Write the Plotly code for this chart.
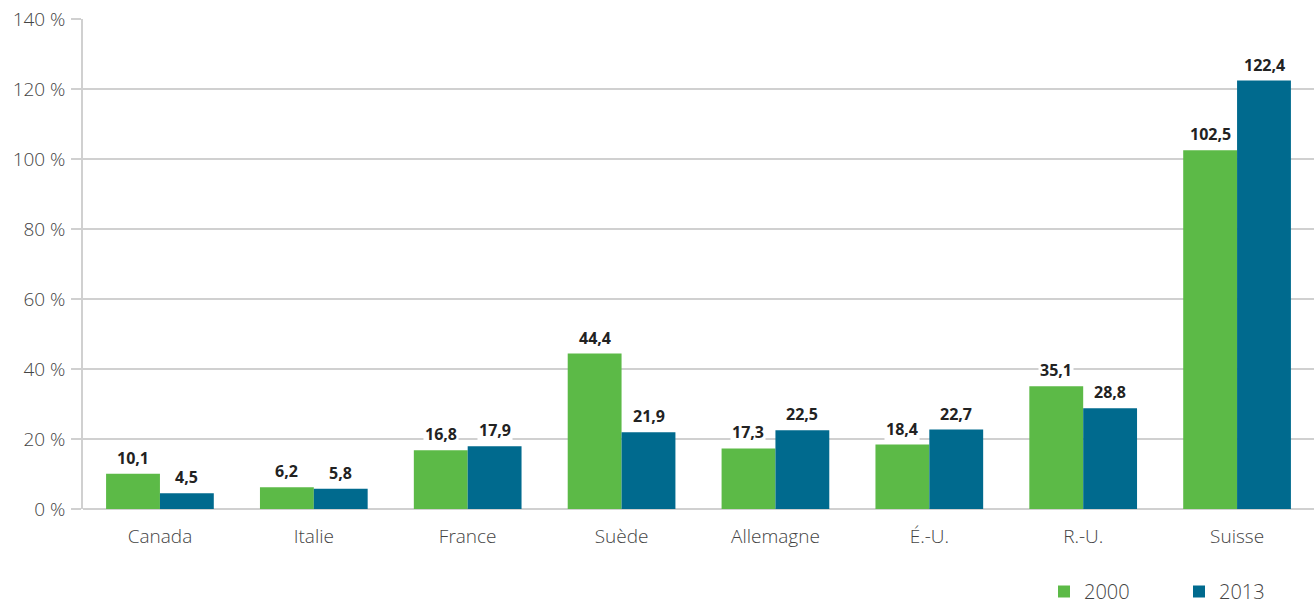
import plotly.graph_objects as go

categories = ["Canada", "Italie", "France", "Suède", "Allemagne", "É.-U.", "R.-U.", "Suisse"]
values_2000 = [10.1, 6.2, 16.8, 44.4, 17.3, 18.4, 35.1, 102.5]
values_2013 = [4.5, 5.8, 17.9, 21.9, 22.5, 22.7, 28.8, 122.4]
series_names = ["2000", "2013"]
colors = ["#5cba47", "#006a8e"]
y_ticks = [0, 20, 40, 60, 80, 100, 120, 140]
y_tick_labels = [f"{t} %" for t in y_ticks]

def fmt(v):
    return f"{v:.1f}".replace(".", ",")

fig = go.Figure()
for name, vals, col in zip(series_names, [values_2000, values_2013], colors):
    fig.add_trace(go.Bar(x=categories, y=vals, name=name, marker_color=col,
                         marker_line_width=0))

annotations = []
for vals, shift in [(values_2000, -27), (values_2013, 27)]:
    for c, v in zip(categories, vals):
        annotations.append(dict(x=c, y=v, xref="x", yref="y", text=fmt(v),
                                showarrow=False, xshift=shift, yshift=3,
                                yanchor="bottom", bgcolor="white",
                                font=dict(family="Open Sans, sans-serif", size=16,
                                          color="#222222", weight="bold")))

fig.update_layout(
    width=1314, height=611,
    margin=dict(l=83, r=0, t=19, b=102, autoexpand=False),
    plot_bgcolor="white", paper_bgcolor="white",
    barmode="group", bargap=0.3, bargroupgap=0,
    font=dict(family="Open Sans, sans-serif", color="#444444", size=19, weight=300),
    annotations=annotations,
    showlegend=True,
    legend=dict(orientation="h", x=1.0, xanchor="right", xref="container",
                y=-0.014, yanchor="bottom", yref="container",
                font=dict(size=20, color="#444444", weight=300), itemwidth=30,
                entrywidth=90, traceorder="normal"),
    xaxis=dict(showline=False, ticks="", ticklabelstandoff=14,
               tickfont=dict(size=19, color="#444444", weight=300)),
    yaxis=dict(range=[0, 140], tickvals=y_ticks, ticktext=y_tick_labels,
               showgrid=True, gridcolor="#d0d0d0", gridwidth=1.5,
               showline=True, linecolor="#d0d0d0", linewidth=1.5,
               ticks="outside", ticklen=10, tickcolor="#d0d0d0", tickwidth=1.5,
               ticklabelstandoff=2,
               zeroline=True, zerolinecolor="#d0d0d0", zerolinewidth=1.5,
               tickfont=dict(size=19, color="#444444", weight=300)),
)

fig.write_html("out.html")
